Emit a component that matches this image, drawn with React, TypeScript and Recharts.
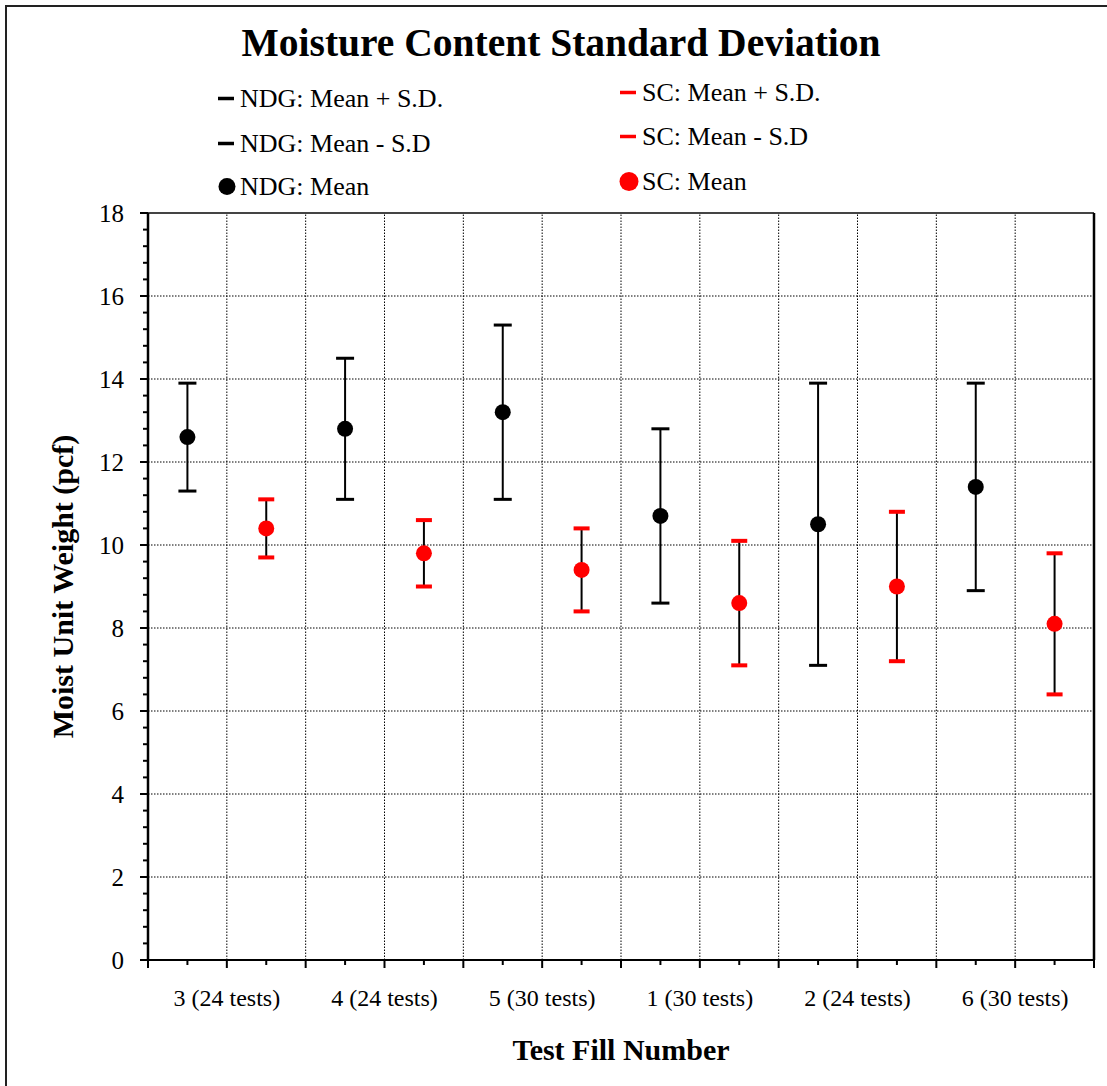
import React from 'react';
import {
  ErrorBar,
  Legend,
  ReferenceLine,
  Scatter,
  ScatterChart,
  XAxis,
  YAxis,
} from 'recharts';

// test fills in plotted order
const fills = ['3 (24 tests)', '4 (24 tests)', '5 (30 tests)', '1 (30 tests)', '2 (24 tests)', '6 (30 tests)'];

const ndgMean = [12.6, 12.8, 13.2, 10.7, 10.5, 11.4];
const ndgPlus = [13.9, 14.5, 15.3, 12.8, 13.9, 13.9];
const ndgMinus = [11.3, 11.1, 11.1, 8.6, 7.1, 8.9];

const scMean = [10.4, 9.8, 9.4, 8.6, 9.0, 8.1];
const scPlus = [11.1, 10.6, 10.4, 10.1, 10.8, 9.8];
const scMinus = [9.7, 9.0, 8.4, 7.1, 7.2, 6.4];

const yGridValues = [2, 4, 6, 8, 10, 12, 14, 16];
const xGridValues = [1, 2, 3, 4, 5, 6, 7, 8, 9, 10, 11];

const legendLeft = ['NDG: Mean + S.D.', 'NDG: Mean - S.D', 'NDG: Mean'];
const legendRight = ['SC: Mean + S.D.', 'SC: Mean - S.D', 'SC: Mean'];

const FONT = "'Liberation Serif', 'Times New Roman', serif";
const RED = '#ff0000';

// NDG sits in the left half of each fill's slot, SC in the right half
const buildRows = (mean: number[], plus: number[], minus: number[], shift: number) =>
  fills.map((name, i) => ({
    name,
    x: i * 2 + shift,
    mean: mean[i],
    plus: plus[i],
    minus: minus[i],
    err: [mean[i] - minus[i], plus[i] - mean[i]],
  }));

const ndgRows = buildRows(ndgMean, ndgPlus, ndgMinus, 0.5);
const scRows = buildRows(scMean, scPlus, scMinus, 1.5);

const pick = (rows: any[], key: string) => rows.map((r) => ({ ...r, y: r[key] }));

const xTicks = Array.from({ length: 25 }, (_, i) => i * 0.5);
const yTicks = Array.from({ length: 46 }, (_, i) => Math.round(i * 4) / 10);

const isMult = (v: number, step: number) => Math.abs(v / step - Math.round(v / step)) < 1e-6;

function YTick({ x, y, payload }: any) {
  const v = payload.value;
  const major = isMult(v, 2);
  return (
    <g>
      <line x1={x - (major ? 8 : 5)} x2={x} y1={y} y2={y} stroke="#000" strokeWidth={2} />
      {major && (
        <text x={x - 24} y={y + 8.5} textAnchor="end" fontSize={25} fontFamily={FONT} fill="#000">
          {v}
        </text>
      )}
    </g>
  );
}

function XTick({ x, y, payload }: any) {
  const v = payload.value;
  const major = isMult(v, 1);
  const slot = (v - 1) / 2;
  const label = isMult(slot, 1) && slot >= 0 ? fills[Math.round(slot)] : null;
  return (
    <g>
      <line x1={x} x2={x} y1={y} y2={y + (major ? 8 : 5)} stroke="#000" strokeWidth={2} />
      {label && (
        <text x={x} y={y + 46} textAnchor="middle" fontSize={24} fontFamily={FONT} fill="#000">
          {label}
        </text>
      )}
    </g>
  );
}

const meanDot = (fill: string) => (p: any) => <circle cx={p.cx} cy={p.cy} r={8} fill={fill} />;
const blackCap = (p: any) => <rect x={p.cx - 9} y={p.cy - 1.5} width={18} height={3} fill="#000" />;
const redCap = (p: any) => <rect x={p.cx - 8} y={p.cy - 2} width={16} height={4} fill={RED} />;

function LegendBox() {
  const cols = [
    { labels: legendLeft, color: '#000', textX: 240, base: [107, 152, 195], r: 8.5 },
    { labels: legendRight, color: RED, textX: 642, base: [101, 145, 190], r: 9.5 },
  ];
  return (
    <svg width={1107} height={205}>
      {cols.map((c) =>
        c.labels.map((label, i) => {
          const my = c.base[i] - 8.5;
          return (
            <g key={label}>
              {i < 2 ? (
                <rect x={c.textX - 22} y={my - 1.75} width={16} height={3.5} fill={c.color} />
              ) : (
                <circle cx={c.textX - 13} cy={my} r={c.r} fill={c.color} />
              )}
              <text x={c.textX} y={c.base[i]} fontSize={26} fontFamily={FONT} fill="#000">
                {label}
              </text>
            </g>
          );
        }),
      )}
    </svg>
  );
}

export default function App() {
  return (
    <div
      style={{
        position: 'absolute',
        left: 0,
        top: 0,
        width: 1107,
        height: 1086,
        overflow: 'hidden',
        background: '#fff',
      }}
    >
      <div
        style={{
          position: 'absolute',
          left: 5,
          top: 5,
          width: 1200,
          height: 1200,
          borderLeft: '2px solid #222',
          borderTop: '2px solid #222',
        }}
      />
      <div
        style={{
          position: 'absolute',
          left: 0,
          top: 24,
          width: 1122,
          textAlign: 'center',
          fontFamily: FONT,
          fontWeight: 'bold',
          fontSize: 39.5,
          lineHeight: 1,
          zIndex: 2,
        }}
      >
        Moisture Content Standard Deviation
      </div>
      <ScatterChart width={1107} height={1086} margin={{ top: 213, right: 13, bottom: 0, left: 0 }}>
        {yGridValues.map((v) => (
          <ReferenceLine key={'h' + v} y={v} stroke="#000" strokeWidth={1} strokeDasharray="1.5 1.5" />
        ))}
        {xGridValues.map((v) => (
          <ReferenceLine key={'v' + v} x={v} stroke="#000" strokeWidth={1} strokeDasharray="1.5 1.5" />
        ))}
        <ReferenceLine y={18} stroke="#444" strokeWidth={2} />
        <ReferenceLine x={12} stroke="#000" strokeWidth={2.5} />
        <XAxis
          type="number"
          dataKey="x"
          domain={[0, 12]}
          ticks={xTicks}
          interval={0}
          tickSize={0}
          tickMargin={0}
          tickLine={false}
          tick={<XTick />}
          axisLine={{ stroke: '#000', strokeWidth: 2 }}
          height={126}
          label={(props: any) => {
            const vb = props.viewBox;
            return (
              <text
                x={vb.x + vb.width / 2}
                y={vb.y + 100}
                textAnchor="middle"
                fontSize={30}
                fontWeight="bold"
                fontFamily={FONT}
                fill="#000"
              >
                Test Fill Number
              </text>
            );
          }}
        />
        <YAxis
          type="number"
          dataKey="y"
          domain={[0, 18]}
          ticks={yTicks}
          interval={0}
          tickSize={0}
          tickMargin={0}
          tickLine={false}
          tick={<YTick />}
          axisLine={{ stroke: '#000', strokeWidth: 2.5 }}
          width={148}
          label={(props: any) => {
            const vb = props.viewBox;
            const cx = vb.x + 73;
            const cy = vb.y + vb.height / 2;
            return (
              <text
                x={cx}
                y={cy}
                transform={`rotate(-90 ${cx} ${cy})`}
                textAnchor="middle"
                fontSize={30}
                fontWeight="bold"
                fontFamily={FONT}
                fill="#000"
              >
                Moist Unit Weight (pcf)
              </text>
            );
          }}
        />
        <Legend
          layout="vertical"
          align="center"
          verticalAlign="middle"
          wrapperStyle={{ top: 0, left: 0, width: 1107, height: 205 }}
          content={() => <LegendBox />}
        />
        <Scatter name="NDG: Mean" data={pick(ndgRows, 'mean')} shape={meanDot('#000')} isAnimationActive={false}>
          <ErrorBar dataKey="err" direction="y" width={0} stroke="#000" strokeWidth={2} />
        </Scatter>
        <Scatter name="NDG: Mean + S.D." data={pick(ndgRows, 'plus')} shape={blackCap} isAnimationActive={false} />
        <Scatter name="NDG: Mean - S.D" data={pick(ndgRows, 'minus')} shape={blackCap} isAnimationActive={false} />
        <Scatter name="SC: Mean" data={pick(scRows, 'mean')} shape={meanDot(RED)} isAnimationActive={false}>
          <ErrorBar dataKey="err" direction="y" width={0} stroke="#000" strokeWidth={2} />
        </Scatter>
        <Scatter name="SC: Mean + S.D." data={pick(scRows, 'plus')} shape={redCap} isAnimationActive={false} />
        <Scatter name="SC: Mean - S.D" data={pick(scRows, 'minus')} shape={redCap} isAnimationActive={false} />
      </ScatterChart>
    </div>
  );
}
